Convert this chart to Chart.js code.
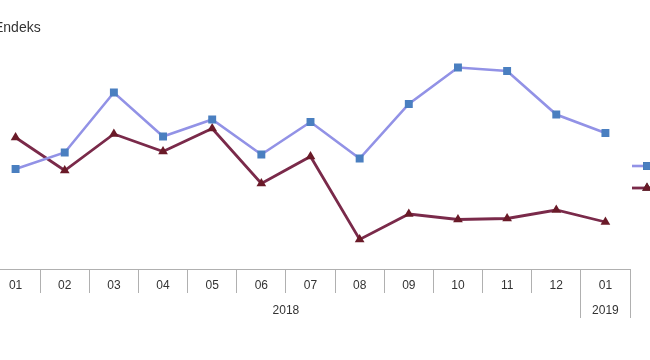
<!DOCTYPE html>
<html>
<head>
<meta charset="utf-8">
<script src="https://cdn.jsdelivr.net/npm/chart.js@4"></script>
<style>
  html, body { margin: 0; padding: 0; background: #fff; }
  #wrap { position: relative; width: 650px; height: 360px; overflow: hidden; }
  #myChart { position: absolute; left: -20px; top: 0; }
</style>
</head>
<body>
<div id="wrap"><canvas id="myChart" width="780" height="360"></canvas></div>
<script>
// months shown on the axis, and the year each one belongs to
const months = ['01', '02', '03', '04', '05', '06', '07', '08', '09', '10', '11', '12', '01'];
const years = ['2018', '2018', '2018', '2018', '2018', '2018', '2018', '2018', '2018', '2018', '2018', '2018', '2019'];

// values (no y ticks shown, so on an arbitrary index scale)
const seriesA = [100.0, 103.3, 115.3, 106.5, 109.9, 102.9, 109.4, 102.1, 113.0, 120.3, 119.6, 110.9, 107.2];
const seriesB = [106.3, 99.7, 107.0, 103.5, 108.1, 97.1, 102.5, 85.9, 91.0, 89.9, 90.1, 91.8, 89.4];

const labelA = 'Takvim etkisinden arındırılmış';
const labelB = 'Mevsim ve takvim etkilerinden arındırılmış';

const axisColor = '#b0b0b0';
const textColor = '#333';
const font = '"Liberation Sans", Arial, sans-serif';

// year row under the month labels + longer separators at year edges
const yearRow = {
    id: 'yearRow',
    afterDraw(chart) {
        const ctx = chart.ctx;
        const x = chart.scales.x;
        const half = (x.getPixelForValue(1) - x.getPixelForValue(0)) / 2;
        const top = x.top;
        ctx.save();
        ctx.strokeStyle = axisColor;
        ctx.lineWidth = 1;
        ctx.fillStyle = textColor;
        ctx.font = '12px ' + font;
        ctx.textAlign = 'center';
        ctx.textBaseline = 'middle';
        let start = 0;
        for (let i = 1; i <= years.length; i++) {
            if (i === years.length || years[i] !== years[start]) {
                const l = x.getPixelForValue(start) - half;
                const r = x.getPixelForValue(i - 1) + half;
                ctx.fillText(years[start], (l + r) / 2, top + 42);
                [l, r].forEach(px => {
                    const ax = Math.round(px - 0.5) + 0.5;
                    ctx.beginPath();
                    ctx.moveTo(ax, top + 20);
                    ctx.lineTo(ax, top + 49);
                    ctx.stroke();
                });
                start = i;
            }
        }
        ctx.restore();
    }
};

// y title and the line+marker legend on the right
const extras = {
    id: 'extras',
    afterDraw(chart) {
        const ctx = chart.ctx;
        const area = chart.chartArea;
        ctx.save();
        ctx.fillStyle = textColor;
        ctx.font = '14px ' + font;
        ctx.textBaseline = 'alphabetic';
        ctx.textAlign = 'left';
        ctx.fillText('Endeks', 14, 32);

        chart.data.datasets.forEach((ds, i) => {
            const y = 166 + i * 22;
            const x0 = area.right + 2;
            ctx.strokeStyle = ds.borderColor;
            ctx.lineWidth = ds.borderWidth;
            ctx.beginPath();
            ctx.moveTo(x0, y);
            ctx.lineTo(x0 + 30, y);
            ctx.stroke();
            Chart.helpers.drawPoint(ctx, {
                pointStyle: ds.pointStyle,
                radius: ds.pointRadius,
                borderWidth: 0
            }, x0 + 15, y);
            ctx.fillStyle = ds.pointBackgroundColor;
            ctx.fill();
            ctx.fillStyle = textColor;
            ctx.font = '12px ' + font;
            ctx.textBaseline = 'middle';
            ctx.fillText(ds.label, x0 + 36, y);
        });
        ctx.restore();
    }
};

const ctx = document.getElementById('myChart').getContext('2d');

const chart = new Chart(ctx, {
    type: 'line',
    data: {
        labels: months,
        datasets: [{
            label: labelA,
            data: seriesA,
            borderColor: '#9292e6',
            borderWidth: 2.6,
            pointStyle: 'rect',
            pointRadius: 5.6,
            pointBackgroundColor: '#4a7fc0',
            pointBorderColor: '#4a7fc0',
            pointBorderWidth: 0,
            tension: 0
        }, {
            label: labelB,
            data: seriesB,
            borderColor: '#7a2a4a',
            borderWidth: 2.8,
            pointStyle: 'triangle',
            pointRadius: 5.6,
            pointBackgroundColor: '#6a1a28',
            pointBorderColor: '#6a1a28',
            pointBorderWidth: 0,
            tension: 0
        }]
    },
    options: {
        responsive: false,
        animation: false,
        layout: { padding: { left: 11, right: 130, top: 19, bottom: 0 } },
        plugins: {
            legend: { display: false },
            tooltip: { enabled: false }
        },
        scales: {
            x: {
                type: 'category',
                offset: true,
                afterFit: s => { s.height = 91; },
                border: { display: true, color: axisColor, width: 1 },
                grid: {
                    display: true,
                    offset: true,
                    drawOnChartArea: false,
                    drawTicks: true,
                    tickLength: 24,
                    color: axisColor
                },
                ticks: {
                    color: textColor,
                    font: { family: font, size: 12 },
                    padding: -15,
                    maxRotation: 0,
                    autoSkip: false
                }
            },
            y: {
                display: false,
                min: 80,
                max: 130
            }
        }
    },
    plugins: [yearRow, extras]
});
</script>
</body>
</html>
